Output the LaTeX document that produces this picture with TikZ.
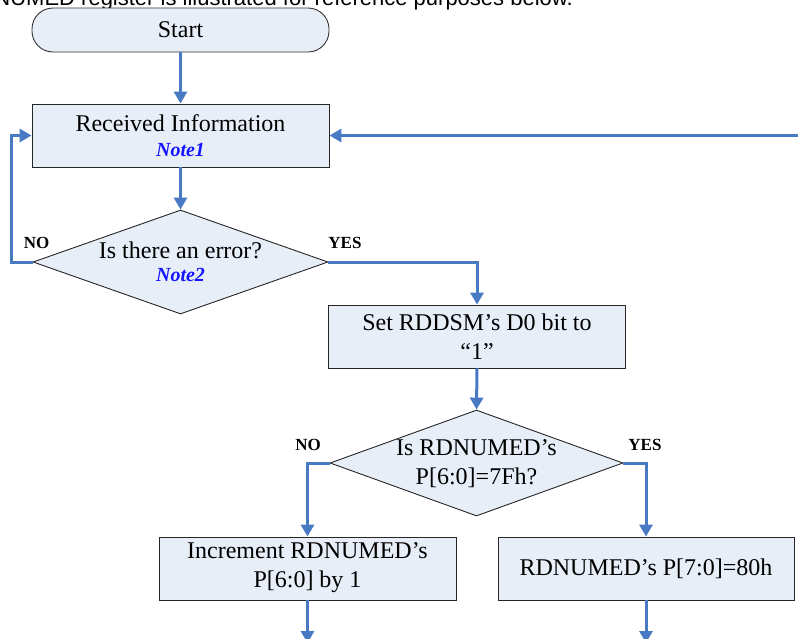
\documentclass[tikz,border=0pt]{standalone}
\usepackage{fontspec}
\setmainfont{Liberation Serif}
\newfontfamily\hdrfont{Liberation Sans}
\usetikzlibrary{arrows.meta,shapes.geometric}
\definecolor{flowblue}{RGB}{72,122,196}
\definecolor{boxfill}{RGB}{232,238,248}
\definecolor{noteblue}{RGB}{20,20,255}
\tikzset{
  procbox/.style={draw=black!85, line width=0.9pt, fill=boxfill, rectangle, minimum width=297pt, minimum height=63pt, inner sep=0pt},
  termbox/.style={draw=black!80, line width=0.9pt, fill=boxfill, rectangle, rounded corners=21pt, minimum width=297pt, minimum height=44pt, inner sep=0pt},
  decbox/.style={draw=black!85, line width=0.9pt, fill=boxfill, diamond, inner sep=0pt},
  txt/.style={font=\fontsize{24}{29}\selectfont, align=center, inner sep=0pt},
  note/.style={font=\fontsize{20}{24}\selectfont\bfseries\itshape, text=noteblue, inner sep=0pt},
  yn/.style={font=\fontsize{17}{20}\selectfont\bfseries, inner sep=0pt},
  flow/.style={draw=flowblue, line width=3pt, -{Triangle[width=13pt,length=12pt]}},
  flowline/.style={draw=flowblue, line width=3pt}
}
\begin{document}
\begin{tikzpicture}[x=1pt,y=-1pt]
\useasboundingbox (0,0) rectangle (798,638);
\clip (0,0) rectangle (798,638);
\fill[white] (0,0) rectangle (798,638);

\node[anchor=base east, font=\hdrfont\fontsize{22}{26}\selectfont, inner sep=0pt] (hdr) at (573,5) {NUMED register is illustrated for reference purposes below.};

\node[termbox] (start) at (180.5,30) {};
\node[txt] (startt) at (180.5,30) {Start};

\node[procbox] (recv) at (180.5,135.5) {};
\node[txt] (recvt) at (180.5,123) {Received Information};
\node[note] (note1) at (180.5,150) {Note1};

\node[decbox, minimum width=295pt, minimum height=104pt] (d1) at (180.5,262) {};
\node[txt] (d1t) at (180.5,250) {Is there an error?};
\node[note] (note2) at (180.5,275) {Note2};

\node[procbox] (set) at (477,336.5) {};
\node[txt] (sett) at (477,336.5) {Set RDDSM’s D0 bit to\\“1”};

\node[decbox, minimum width=293pt, minimum height=106pt] (d2) at (476.5,463) {};
\node[txt] (d2t) at (476.5,463.5) {Is RDNUMED’s\\P[6:0]=7Fh?};

\node[procbox] (inc) at (307.5,568.5) {};
\node[txt] (inct) at (307.5,567.5) {Increment RDNUMED’s\\P[6:0] by 1};

\node[procbox, minimum width=296pt] (p80) at (646,568.5) {};
\node[txt] (p80t) at (646,568.5) {RDNUMED’s P[7:0]=80h};

\node[yn] (no1) at (36.5,243) {NO};
\node[yn] (yes1) at (345,243) {YES};
\node[yn] (no2) at (308,445) {NO};
\node[yn] (yes2) at (645,445) {YES};

\coordinate (loopl) at (11,262);
\coordinate (rin) at (805,135.5);
\coordinate (incout) at (307.5,643);
\coordinate (p80out) at (646,643);

\draw[flow] (start.south) -- (recv.north);
\draw[flow] (recv.south) -- (d1.north);
\draw[flow] (d1.west) -- (loopl) |- (recv.west);
\draw[flow] (d1.east) -| (set.north);
\draw[flow] (set.south) -- (d2.north);
\draw[flow] (d2.west) -| (inc.north);
\draw[flow] (d2.east) -| (p80.north);
\draw[flow] (rin) -- (recv.east);
\draw[flow] (inc.south) -- (incout);
\draw[flow] (p80.south) -- (p80out);
\end{tikzpicture}
\end{document}
